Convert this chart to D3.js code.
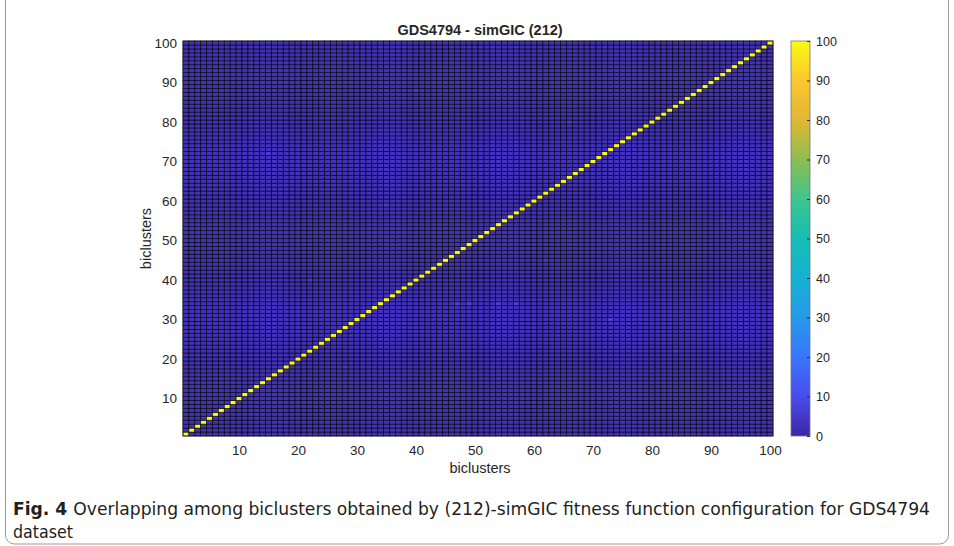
<html>
<head>
<style>
  body{margin:0;background:#fff}
  svg text{font-family:"Liberation Sans",Arial,sans-serif;fill:#262626}
  .caption text{font-family:"DejaVu Sans",sans-serif;font-stretch:condensed;fill:#231f20}
</style>
</head>
<body>
<div id="chart"></div>
<script src="https://cdn.jsdelivr.net/npm/d3@7"></script>
<script>
(function () {

  // biclusters 1..100 on both axes
  var biclusters = d3.range(1, 101);
  var xTicks = [10, 20, 30, 40, 50, 60, 70, 80, 90, 100];
  var yTicks = [10, 20, 30, 40, 50, 60, 70, 80, 90, 100];
  var cbTicks = [0, 10, 20, 30, 40, 50, 60, 70, 80, 90, 100];

  // overlap values: diagonal full overlap, off-diagonal small background
  var diagValue = 100;
  var offValue = 3;
  // a few off-diagonal cells that read slightly lighter [col, row, value]
  var lighterCells = [
    [47, 34, 8], [49, 34, 8], [54, 34, 7], [57, 34, 7], [73, 30, 8],
    [28, 18, 6], [35, 59, 6], [62, 45, 6], [84, 22, 6], [15, 72, 6],
    [92, 55, 6], [66, 80, 6], [40, 88, 6], [22, 40, 6]
  ];

  var title = 'GDS4794 - simGIC (212)';
  var xLabel = 'biclusters', yLabel = 'biclusters';
  var captionBold = 'Fig. 4';
  var captionLine1 = 'Overlapping among biclusters obtained by (212)-simGIC fitness function configuration for GDS4794';
  var captionLine2 = 'dataset';

  // parula (R2017a) stops
  var parulaStops = [
    [62, 38, 168], [72, 76, 238], [56, 118, 252], [38, 153, 234],
    [20, 178, 210], [22, 190, 180], [62, 197, 142], [140, 190, 80],
    [226, 183, 52], [252, 198, 46], [249, 251, 20]
  ];

  var lighterMap = {};
  lighterCells.forEach(function (c) { lighterMap[c[0] + '_' + c[1]] = c[2]; });
  var cells = [];
  biclusters.forEach(function (r) {
    biclusters.forEach(function (c) {
      var v = r === c ? diagValue : (lighterMap[c + '_' + r] || offValue);
      cells.push({ col: c, row: r, value: v });
    });
  });

  var W = 954, H = 546,
      x0 = 183, x1 = 773, y0 = 41, y1 = 436;

  var svg = d3.select('#chart').append('svg')
    .attr('width', W).attr('height', H);

  // figure frame
  svg.append('rect')
    .attr('x', 5.5).attr('y', -10).attr('width', 943).attr('height', 554)
    .attr('rx', 9).attr('fill', 'none').attr('stroke', '#9a9a9a');

  var colorScale = d3.scaleLinear()
    .domain(d3.range(parulaStops.length).map(function (i) { return i * 100 / (parulaStops.length - 1); }))
    .range(parulaStops.map(function (c) { return d3.rgb(c[0], c[1], c[2]); }))
    .interpolate(d3.interpolateRgb);

  var xScale = d3.scaleBand().domain(biclusters).range([x0, x1]);
  var yScale = d3.scaleBand().domain(biclusters.slice().reverse()).range([y0, y1]);
  var xLin = d3.scaleLinear().domain([0.5, 100.5]).range([x0, x1]);
  var yLin = d3.scaleLinear().domain([0.5, 100.5]).range([y1, y0]);

  // heatmap cells
  svg.append('g').selectAll('rect').data(cells).enter().append('rect')
    .attr('x', function (d) { return xScale(d.col); })
    .attr('y', function (d) { return yScale(d.row); })
    .attr('width', xScale.bandwidth())
    .attr('height', yScale.bandwidth())
    .attr('fill', function (d) { return colorScale(d.value); })
    .attr('stroke', '#000')
    .attr('stroke-opacity', 0.8)
    .attr('stroke-width', 0.75);

  svg.append('rect')
    .attr('x', x0).attr('y', y0).attr('width', x1 - x0).attr('height', y1 - y0)
    .attr('fill', 'none').attr('stroke', '#262626').attr('stroke-width', 0.8);

  // axes
  var xAxis = svg.append('g').attr('transform', 'translate(0,' + y1 + ')')
    .call(d3.axisBottom(xLin).tickValues(xTicks).tickSize(0).tickPadding(9));
  var yAxis = svg.append('g').attr('transform', 'translate(' + x0 + ',0)')
    .call(d3.axisLeft(yLin).tickValues(yTicks).tickSize(0).tickPadding(6));
  [xAxis, yAxis].forEach(function (a) {
    a.select('.domain').remove();
    a.selectAll('text').attr('font-size', 13.5).attr('font-family', '"Liberation Sans",Arial,sans-serif').attr('fill', '#262626');
  });

  svg.append('text')
    .attr('x', (x0 + x1) / 2 + 2).attr('y', 35)
    .attr('text-anchor', 'middle').attr('font-size', 14.5).attr('font-weight', 'bold')
    .attr('fill', '#000').text(title);

  svg.append('text')
    .attr('x', (x0 + x1) / 2 + 2).attr('y', 473)
    .attr('text-anchor', 'middle').attr('font-size', 14.5).text(xLabel);

  svg.append('text')
    .attr('transform', 'translate(151,' + ((y0 + y1) / 2) + ') rotate(-90)')
    .attr('text-anchor', 'middle').attr('font-size', 14.5).text(yLabel);

  // colorbar
  var cbX = 791, cbW = 19;
  var cbScale = d3.scaleLinear().domain([0, 100]).range([y1, y0]);
  var defs = svg.append('defs');
  var grad = defs.append('linearGradient').attr('id', 'parula')
    .attr('x1', 0).attr('y1', 1).attr('x2', 0).attr('y2', 0);
  parulaStops.forEach(function (c, i) {
    grad.append('stop')
      .attr('offset', (i / (parulaStops.length - 1) * 100) + '%')
      .attr('stop-color', d3.rgb(c[0], c[1], c[2]));
  });
  svg.append('rect')
    .attr('x', cbX).attr('y', y0).attr('width', cbW).attr('height', y1 - y0)
    .attr('fill', 'url(#parula)').attr('stroke', '#777').attr('stroke-width', 0.8);

  var cbAxis = svg.append('g').attr('transform', 'translate(' + (cbX + cbW) + ',0)')
    .call(d3.axisRight(cbScale).tickValues(cbTicks).tickSize(-3).tickPadding(6));
  cbAxis.select('.domain').remove();
  cbAxis.selectAll('line').attr('stroke', '#262626');
  cbAxis.selectAll('text').attr('font-size', 12.5).attr('font-family', '"Liberation Sans",Arial,sans-serif').attr('fill', '#262626');

  // caption
  var cap = svg.append('g').attr('class', 'caption');
  var t1 = cap.append('text').attr('x', 13).attr('y', 515).attr('font-size', 18);
  t1.append('tspan').attr('font-weight', 'bold').text(captionBold + '  ');
  t1.append('tspan').text(captionLine1);
  var t2 = cap.append('text').attr('x', 13).attr('y', 538).attr('font-size', 18).text(captionLine2);

  // fit caption lines to the reference widths
  t1.attr('textLength', 917).attr('lengthAdjust', 'spacingAndGlyphs');
  t2.attr('textLength', 60).attr('lengthAdjust', 'spacingAndGlyphs');

})();
</script>
</body>
</html>
